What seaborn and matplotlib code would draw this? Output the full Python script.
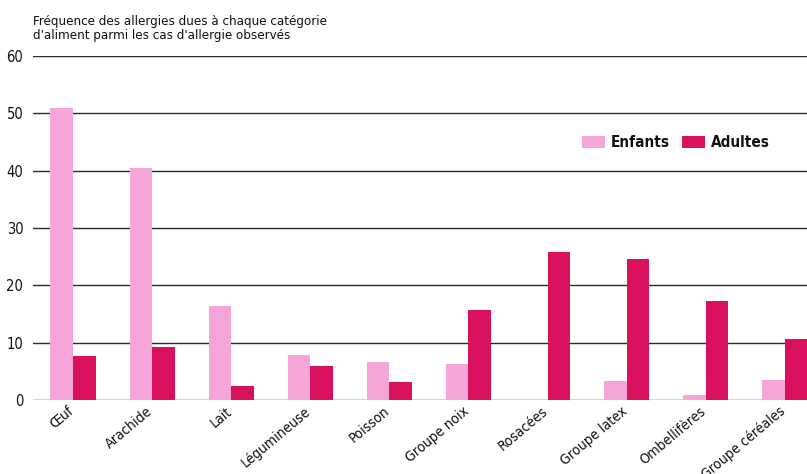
import pandas as pd
import numpy as np
import matplotlib
matplotlib.use("Agg")
import matplotlib.pyplot as plt
import matplotlib.transforms as mtransforms
import seaborn as sns

# categories and values
aliments = ["Œuf", "Arachide", "Lait", "Légumineuse", "Poisson", "Groupe noix",
            "Rosacées", "Groupe latex", "Ombellifères", "Groupe céréales"]
enfants = [51.0, 40.5, 16.4, 7.9, 6.7, 6.3, 0.0, 3.4, 0.9, 3.5]
adultes = [7.6, 9.3, 2.5, 6.0, 3.2, 15.7, 25.9, 24.6, 17.2, 10.7]
groupes = ["Enfants", "Adultes"]
couleurs = ["#f4a6d8", "#d9105c"]
yticks = [0, 10, 20, 30, 40, 50, 60]

df = pd.DataFrame({
    "aliment": aliments * 2,
    "freq": enfants + adultes,
    "groupe": [groupes[0]] * len(aliments) + [groupes[1]] * len(aliments),
})

sns.set_style("white")
plt.rcParams["font.family"] = ["DejaVu Sans"]
plt.rcParams["font.stretch"] = "condensed"
plt.rcParams["text.color"] = "#111111"
plt.rcParams["xtick.color"] = "#111111"
plt.rcParams["ytick.color"] = "#111111"

fig = plt.figure(figsize=(8.07, 4.74), dpi=100)
ax = fig.add_axes([33 / 807, (474 - 400) / 474, (807 - 33) / 807, 344 / 474])

sns.barplot(data=df, x="aliment", y="freq", hue="groupe", palette=couleurs,
            width=0.57, saturation=1, ax=ax, edgecolor="none")

ax.set_ylim(0, 60)
ax.set_xlim(-0.506, 9.28)
ax.set_yticks(yticks)
for y in yticks:
    ax.axhline(y, color="#2a2a2a", lw=1.0, zorder=0)
for s in ax.spines.values():
    s.set_visible(False)

ax.tick_params(axis="y", length=0, pad=7, labelsize=10.5)
ax.tick_params(axis="x", length=0, pad=3, labelsize=10.2)
shift = mtransforms.ScaledTranslation(-6 / 100, 0, fig.dpi_scale_trans)
for lab in ax.get_xticklabels():
    lab.set_rotation(40)
    lab.set_ha("right")
    lab.set_rotation_mode("anchor")
    lab.set_transform(lab.get_transform() + shift)
ax.set_xlabel("")
ax.set_ylabel("")

fig.text(33 / 807, 1 - 15 / 474,
         "Fréquence des allergies dues à chaque catégorie\nd'aliment parmi les cas d'allergie observés",
         ha="left", va="top", fontsize=9.5, linespacing=1.15)

leg = ax.legend(loc="upper right", bbox_to_anchor=(0.97, 0.81), ncol=2, frameon=False,
                fontsize=11, handlelength=1.5, handleheight=0.8, columnspacing=0.8,
                handletextpad=0.4)
for t in leg.get_texts():
    t.set_fontweight("bold")

fig.savefig("out.png", dpi=100)
